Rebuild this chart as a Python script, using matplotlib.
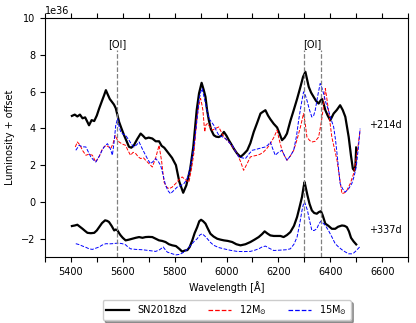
import matplotlib
matplotlib.use("Agg")
import matplotlib.pyplot as plt
from matplotlib.ticker import ScalarFormatter
import numpy as np

SCALE = 1e36

# +214d epoch (values in units of 1e36, including offset)
obs214_wl = [5404,5415,5425,5435,5445,5455,5462,5470,5480,5490,5500,5509,5520,5528,5535,5542,5550,5558,5566,5573,
             5580,5586,5595,5605,5615,5624,5633,5643,5655,5669,5678,5688,5700,5714,5727,5740,5750,5760,5771,5790,
             5805,5818,5833,5845,5860,5872,5885,5894,5904,5912,5919,5925,5932,5940,5951,5960,5970,5980,5990,6000,
             6009,6018,6028,6040,6054,6066,6080,6092,6105,6118,6131,6140,6150,6160,6169,6182,6195,6205,6214,6224,
             6233,6246,6259,6272,6285,6295,6304,6310,6317,6326,6336,6345,6355,6362,6368,6375,6381,6390,6400,6413,
             6425,6438,6448,6458,6471,6480,6487,6493,6497,6500]
obs214_fl = [4.68,4.75,4.65,4.75,4.55,4.6,4.4,4.17,4.45,4.4,4.7,5.08,5.5,5.8,6.08,5.85,5.6,5.45,5.3,5.1,
             4.7,4.35,4.0,3.63,3.3,3.0,2.95,3.08,3.4,3.72,3.6,3.45,3.5,3.45,3.3,3.3,3.05,2.95,2.75,2.4,
             2.0,1.1,0.5,0.9,1.8,3.0,4.99,5.9,6.48,6.1,5.71,5.0,4.44,3.95,3.63,3.55,3.53,3.6,3.81,3.6,
             3.36,3.15,2.9,2.65,2.45,2.6,2.81,3.2,3.81,4.3,4.81,4.9,4.99,4.7,4.5,4.25,4.05,3.7,3.36,3.5,
             3.72,4.4,4.99,5.6,6.26,6.8,7.08,6.7,6.26,5.95,5.71,5.5,5.35,5.5,5.6,5.3,4.99,4.7,4.44,4.81,
             5.0,5.26,5.0,4.63,3.53,2.5,1.81,1.7,2.0,2.96]

m12_214_wl = [5417,5425,5435,5445,5458,5470,5483,5496,5510,5522,5535,5545,5554,5563,5571,5578,5586,5598,5611,5620,
              5630,5640,5650,5660,5669,5680,5688,5700,5714,5727,5740,5750,5759,5770,5778,5790,5804,5816,5829,5842,
              5855,5865,5874,5880,5887,5894,5900,5905,5909,5913,5916,5921,5926,5935,5945,5958,5970,5980,5990,6002,
              6015,6028,6041,6054,6066,6080,6092,6105,6118,6130,6143,6155,6169,6182,6195,6203,6214,6224,6233,6246,
              6259,6272,6285,6297,6304,6310,6320,6329,6342,6355,6365,6372,6381,6387,6393,6400,6406,6416,6426,6436,
              6445,6455,6464,6477,6490,6505,6515]
m12_214_fl = [2.99,3.26,3.1,2.8,2.54,2.6,2.54,2.17,2.5,2.9,3.08,3.0,2.9,3.2,3.63,3.4,3.26,3.15,3.08,2.8,
              2.54,2.7,2.63,2.45,2.36,2.4,2.27,2.1,1.9,2.4,3.08,2.2,1.08,0.8,0.72,0.8,1.0,1.2,1.36,1.2,
              1.08,1.8,2.63,3.6,4.62,5.3,5.63,5.3,4.99,4.3,3.81,4.2,4.26,4.1,3.9,4.0,4.08,3.8,3.53,3.35,
              3.17,2.9,2.63,2.2,1.72,2.1,2.45,2.5,2.54,2.6,2.72,2.9,3.17,3.5,3.9,3.4,2.8,2.5,2.27,2.5,
              2.81,3.4,4.08,4.81,4.2,3.53,3.35,3.26,3.3,3.53,4.3,4.99,6.17,5.6,4.99,4.2,3.53,2.9,2.27,1.3,
              0.45,0.5,0.63,1.0,1.54,2.81,3.9]

m15_214_wl = [5419,5432,5445,5458,5468,5477,5486,5496,5510,5520,5528,5541,5552,5560,5567,5573,5580,5586,5592,5600,
              5611,5617,5624,5633,5643,5653,5663,5675,5688,5697,5707,5717,5727,5737,5746,5755,5765,5775,5784,5795,
              5810,5825,5836,5846,5855,5865,5874,5884,5894,5900,5906,5912,5919,5926,5932,5942,5951,5960,5970,5983,
              5996,6009,6022,6035,6047,6060,6073,6086,6099,6112,6124,6137,6150,6160,6169,6178,6188,6200,6214,6224,
              6233,6246,6259,6270,6278,6288,6297,6304,6310,6320,6329,6336,6342,6352,6361,6368,6374,6383,6393,6403,
              6413,6420,6426,6432,6438,6448,6458,6470,6483,6492,6500,6508,6515]
m15_214_fl = [2.81,3.08,3.0,2.99,2.7,2.45,2.3,2.17,2.5,2.8,2.99,3.17,2.9,2.54,3.3,4.17,4.54,4.1,3.81,3.7,
              3.63,3.5,3.36,3.15,2.99,3.1,3.26,2.9,2.54,2.3,2.08,2.2,2.36,2.2,1.99,1.5,0.9,0.6,0.45,0.6,
              0.81,0.9,1.0,1.2,1.54,2.2,2.99,4.2,5.53,5.95,6.17,5.8,5.35,4.9,4.54,4.35,4.17,3.9,3.63,3.55,
              3.45,3.25,3.08,2.75,2.45,2.4,2.36,2.6,2.81,2.85,2.9,2.95,2.99,3.1,3.26,2.9,2.54,2.7,2.81,2.5,
              2.27,2.5,2.81,3.6,4.44,5.3,5.99,5.8,5.53,5.0,4.62,4.7,4.99,5.8,6.44,6.2,5.9,5.4,4.99,4.5,
              4.08,3.4,2.63,1.8,1.0,0.7,0.54,0.7,1.0,1.4,1.9,2.9,3.99]

# +337d epoch
obs337_wl = [5404,5415,5425,5435,5445,5455,5464,5477,5490,5500,5509,5520,5532,5540,5547,5557,5567,5573,5580,5586,
             5592,5600,5611,5624,5637,5650,5663,5676,5688,5700,5714,5727,5740,5752,5765,5778,5791,5805,5818,5829,
             5840,5849,5858,5868,5877,5887,5895,5902,5910,5919,5928,5938,5950,5964,5977,5990,6005,6022,6038,6054,
             6073,6092,6108,6124,6137,6147,6158,6169,6182,6195,6208,6220,6233,6246,6260,6272,6283,6291,6297,6301,
             6306,6312,6320,6329,6338,6348,6356,6364,6370,6381,6393,6406,6419,6430,6445,6455,6464,6472,6480,6490,6500]
obs337_fl = [-1.31,-1.28,-1.24,-1.35,-1.46,-1.58,-1.68,-1.7,-1.68,-1.55,-1.37,-1.15,-1.0,-1.03,-1.09,-1.3,-1.55,-1.5,-1.55,-1.7,
             -1.82,-1.95,-2.09,-2.05,-2.0,-1.95,-1.91,-1.95,-1.91,-1.9,-1.91,-2.0,-2.09,-2.12,-2.18,-2.3,-2.36,-2.4,-2.55,-2.7,
             -2.64,-2.62,-2.45,-2.09,-1.7,-1.37,-1.05,-0.97,-1.05,-1.18,-1.45,-1.73,-1.88,-2.0,-2.05,-2.09,-2.12,-2.18,-2.3,-2.36,
             -2.3,-2.18,-2.05,-1.91,-1.75,-1.6,-1.72,-1.82,-1.85,-1.85,-1.85,-1.91,-1.8,-1.64,-1.3,-0.82,-0.2,0.27,0.8,1.08,
             0.75,0.36,-0.1,-0.46,-0.6,-0.64,-0.55,-0.5,-0.7,-1.18,-1.3,-1.46,-1.46,-1.35,-1.28,-1.3,-1.37,-1.6,-1.95,-2.15,-2.31]

m15_337_wl = [5419,5432,5445,5460,5470,5483,5495,5509,5520,5535,5548,5560,5573,5586,5598,5611,5620,5630,5650,5676,
              5700,5727,5742,5756,5764,5772,5791,5805,5820,5836,5850,5862,5875,5887,5897,5906,5916,5926,5938,5951,
              5970,5990,6015,6041,6066,6092,6110,6124,6137,6150,6165,6182,6208,6230,6246,6260,6272,6282,6291,6296,
              6301,6306,6312,6320,6329,6338,6348,6356,6364,6372,6381,6393,6406,6419,6432,6445,6458,6471,6483,6490,
              6500,6515]
m15_337_fl = [-2.27,-2.32,-2.4,-2.48,-2.55,-2.58,-2.52,-2.45,-2.35,-2.27,-2.28,-2.27,-2.25,-2.24,-2.27,-2.33,-2.45,-2.55,-2.58,-2.6,
              -2.64,-2.69,-2.6,-2.45,-2.6,-2.73,-2.82,-2.88,-2.85,-2.73,-2.55,-2.36,-2.15,-2.0,-1.8,-1.73,-1.85,-2.0,-2.2,-2.36,
              -2.48,-2.55,-2.63,-2.69,-2.7,-2.69,-2.62,-2.55,-2.45,-2.4,-2.52,-2.64,-2.62,-2.6,-2.55,-2.3,-1.91,-1.2,-0.46,-0.15,
              0.0,-0.2,-0.46,-1.0,-1.55,-1.55,-1.46,-1.2,-1.04,-1.15,-1.28,-1.55,-1.9,-2.27,-2.45,-2.6,-2.72,-2.82,-2.82,-2.78,
              -2.65,-2.42]

oi_lines = [5577, 6300, 6364]
oi_labels = [("[OI]", 5577), ("[OI]", 6332)]
epoch_labels = [("+214d", 4.17), ("+337d", -1.5)]
legend_labels = ["SN2018zd", r"12M$_{\odot}$", r"15M$_{\odot}$"]

plt.rcParams['font.size'] = 7
fig = plt.figure(figsize=(4.16, 3.23), dpi=100)
ax = fig.add_axes([0.108, 0.204, 0.873, 0.740])

s = lambda v: np.array(v) * SCALE

l1, = ax.plot(obs214_wl, s(obs214_fl), color='black', lw=1.6)
l2, = ax.plot(m12_214_wl, s(m12_214_fl), color='red', ls='--', lw=0.7)
l3, = ax.plot(m15_214_wl, s(m15_214_fl), color='blue', ls='--', lw=0.7)
ax.plot(obs337_wl, s(obs337_fl), color='black', lw=1.6)
ax.plot(m15_337_wl, s(m15_337_fl), color='blue', ls='--', lw=0.7)

for w in oi_lines:
    ax.plot([w, w], [-3 * SCALE, 8.25 * SCALE], color='grey', ls='--', lw=0.9)
for t, w in oi_labels:
    ax.text(w, 8.6 * SCALE, t, ha='center', va='center', fontsize=7)
for t, yv in epoch_labels:
    ax.text(6551, yv * SCALE, t, ha='left', va='center', fontsize=7)

ax.set_xlim(5300, 6700)
ax.set_ylim(-3 * SCALE, 10 * SCALE)
xt = np.arange(5300, 6701, 100)
ax.set_xticks(xt)
ax.set_xticklabels([str(v) if v % 200 == 0 else '' for v in xt])
ax.set_yticks(np.arange(-2, 11, 2) * SCALE)
fmt = ScalarFormatter(useMathText=False)
fmt.set_powerlimits((36, 36))
ax.yaxis.set_major_formatter(fmt)
ax.tick_params(axis='x', top=True)
ax.set_xlabel('Wavelength [Å]', labelpad=3)
ax.set_ylabel('Luminosity + offset', labelpad=4)

leg = ax.legend([l1, l2, l3], legend_labels, loc='upper center', bbox_to_anchor=(0.5, -0.158),
                ncol=3, shadow=True, fancybox=True, fontsize=7, columnspacing=2.2, handlelength=2.4,
                borderpad=0.35, handletextpad=0.8)
for h in leg.get_lines()[1:]:
    h.set_linewidth(0.9)

fig.savefig('out.png', dpi=100)
